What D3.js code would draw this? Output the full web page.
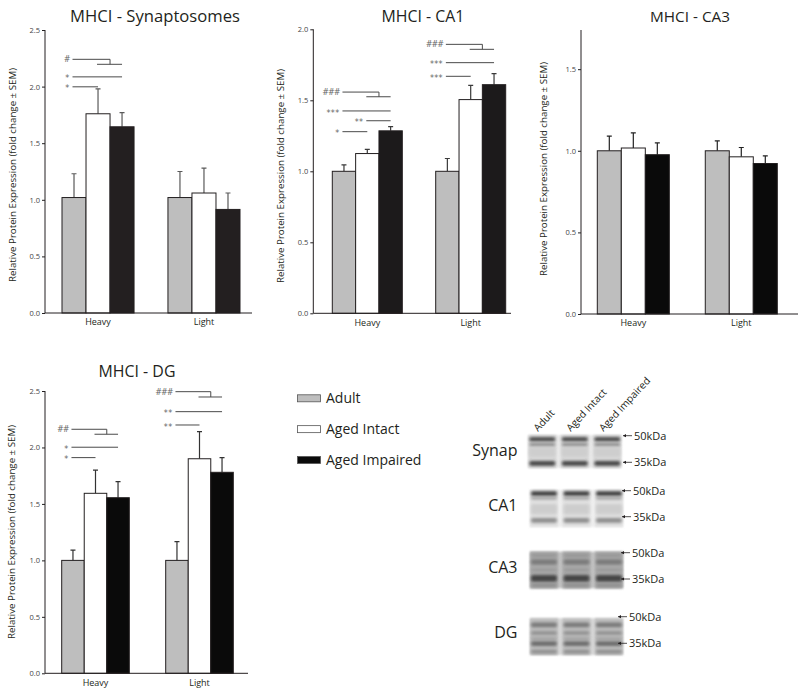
<!DOCTYPE html>
<html><head><meta charset="utf-8">
<script src="https://cdn.jsdelivr.net/npm/d3@7"></script>
<style>body{margin:0;background:#fff} svg{display:block}</style>
</head><body>
<svg id="c" width="800" height="699"></svg>
<script>
// ---------------- data ----------------
const groups = ["Heavy", "Light"];
const series = ["Adult", "Aged Intact", "Aged Impaired"];
const ticks25 = [0, 0.5, 1.0, 1.5, 2.0, 2.5];
const ticks20 = [0, 0.5, 1.0, 1.5, 2.0];
const ticksCA3 = [0, 0.5, 1.0, 1.5];
const yLabel = "Relative Protein Expression (fold change \u00b1 SEM)";

const synHeavy = [1.02, 1.76, 1.645], synHeavySem = [0.21, 0.22, 0.125];
const synLight = [1.02, 1.06, 0.915], synLightSem = [0.23, 0.22, 0.145];
const ca1Heavy = [1.0, 1.125, 1.285], ca1HeavySem = [0.045, 0.03, 0.03];
const ca1Light = [1.0, 1.505, 1.61],  ca1LightSem = [0.09, 0.10, 0.078];
const ca3Heavy = [1.0, 1.017, 0.976], ca3HeavySem = [0.09, 0.093, 0.073];
const ca3Light = [1.0, 0.963, 0.922], ca3LightSem = [0.061, 0.057, 0.047];
const dgHeavy = [1.0, 1.594, 1.555], dgHeavySem = [0.09, 0.206, 0.142];
const dgLight = [1.0, 1.90, 1.78],   dgLightSem = [0.166, 0.24, 0.13];

// significance annotations (y in data units)
const synSig = [
  {group: "Heavy", label: "#", bracket: true, y: 2.241, y2: 2.197},
  {group: "Heavy", label: "*", from: 0, to: 2, y: 2.086},
  {group: "Heavy", label: "*", from: 0, to: 1, y: 1.998}
];
const ca1Sig = [
  {group: "Heavy", label: "###", bracket: true, y: 1.558, y2: 1.525},
  {group: "Heavy", label: "***", from: 0, to: 2, y: 1.425},
  {group: "Heavy", label: "**", from: 1, to: 2, y: 1.356},
  {group: "Heavy", label: "*", from: 0, to: 1, y: 1.279},
  {group: "Light", label: "###", bracket: true, y: 1.894, y2: 1.859},
  {group: "Light", label: "***", from: 0, to: 2, y: 1.765},
  {group: "Light", label: "***", from: 0, to: 1, y: 1.669}
];
const ca3Sig = [];
const dgSig = [
  {group: "Heavy", label: "##", bracket: true, y: 2.161, y2: 2.117},
  {group: "Heavy", label: "*", from: 0, to: 2, y: 2.002},
  {group: "Heavy", label: "*", from: 0, to: 1, y: 1.91},
  {group: "Light", label: "###", bracket: true, y: 2.494, y2: 2.447},
  {group: "Light", label: "**", from: 0, to: 2, y: 2.317},
  {group: "Light", label: "**", from: 0, to: 1, y: 2.199}
];

const blotRows = ["Synap", "CA1", "CA3", "DG"];
const blotLanes = ["Adult", "Aged Intact", "Aged Impaired"];
const blotMarkers = ["50kDa", "35kDa"];

// ---------------- drawing ----------------
const svg = d3.select("#c");
const FONT = "'Open Sans', 'Noto Sans', sans-serif";
const SIGFONT = "'DejaVu Sans', sans-serif";

function fitText(sel, target) {
  const n = sel.node();
  const fs = parseFloat(sel.attr("font-size"));
  const len = n.getComputedTextLength();
  if (len > 0) sel.attr("font-size", fs * target / len);
}

function panel(cfg) {
  const g = svg.append("g");
  const y = d3.scaleLinear().domain([0, cfg.max]).range([cfg.yBottom, cfg.yTop]);
  const x0 = d3.scaleBand().domain(groups).range([cfg.bx0, cfg.bx1]).paddingInner(cfg.pi).paddingOuter(0);
  const x1 = d3.scaleBand().domain(series).range([0, x0.bandwidth()]);
  const fills = ["#bebebe", "#ffffff", cfg.dark];
  const data = groups.map((grp, gi) => series.map((s, si) => ({
    grp, s, si, v: cfg.means[gi][si], e: cfg.sems[gi][si]
  }))).flat();

  // title
  const t = g.append("text").attr("x", cfg.titleX).attr("y", cfg.titleY)
    .attr("text-anchor", "middle").attr("font-family", FONT).attr("font-size", 17.5)
    .attr("fill", "#231f20").text(cfg.title);
  fitText(t, cfg.titleW);

  // y label
  const yl = g.append("text")
    .attr("transform", `translate(${cfg.labX},${cfg.labY}) rotate(-90)`)
    .attr("text-anchor", "middle").attr("font-family", FONT).attr("font-size", 9.2)
    .attr("fill", "#231f20").text(yLabel);
  fitText(yl, 214);

  // y axis
  const ya = g.append("g").attr("transform", `translate(${cfg.axisX},0)`)
    .call(d3.axisLeft(y).tickValues(cfg.ticks).tickFormat(d3.format(".1f")).tickSize(3).tickSizeOuter(0).tickPadding(2));
  ya.select(".domain").attr("stroke", "#231f20").attr("d", `M0,${cfg.yBottom}V${cfg.yTop}`);
  ya.selectAll(".tick line").attr("stroke", "#231f20");
  ya.selectAll(".tick text").attr("font-family", FONT).attr("font-size", 7.5).attr("fill", "#444");

  // error bars
  const cx = d => x0(d.grp) + x1(d.s) + x1.bandwidth() / 2;
  g.selectAll(".err").data(data).join("path")
    .attr("d", d => `M${cx(d)},${y(d.v)}V${y(d.v + d.e)}M${cx(d) - 2.5},${y(d.v + d.e)}H${cx(d) + 2.5}`)
    .attr("stroke", cfg.errColor).attr("stroke-width", 1.2).attr("fill", "none");

  // bars
  g.selectAll(".bar").data(data).join("rect")
    .attr("x", d => x0(d.grp) + x1(d.s))
    .attr("y", d => y(d.v))
    .attr("width", x1.bandwidth())
    .attr("height", d => y(0) - y(d.v))
    .attr("fill", d => fills[d.si])
    .attr("stroke", "#231f20").attr("stroke-width", 1);

  // x axis
  g.append("line").attr("x1", cfg.axisX).attr("x2", cfg.axisEnd)
    .attr("y1", cfg.yBottom).attr("y2", cfg.yBottom).attr("stroke", "#231f20");
  const xa = g.append("g").attr("transform", `translate(0,${cfg.yBottom})`)
    .call(d3.axisBottom(x0).tickSize(0).tickPadding(6));
  xa.select(".domain").remove();
  xa.selectAll(".tick text").attr("font-family", FONT).attr("font-size", 9).attr("fill", "#231f20");

  // significance
  const c = (grp, i) => x0(grp) + x1(series[i]) + x1.bandwidth() / 2;
  cfg.sig.forEach(s => {
    const start = c(s.group, 0) - 1.5;
    let path;
    if (s.bracket) {
      const mid = (c(s.group, 1) + c(s.group, 2)) / 2;
      path = `M${start},${y(s.y)}H${mid}V${y(s.y2)}M${c(s.group, 1) - 1},${y(s.y2)}H${c(s.group, 2)}`;
    } else {
      const st = s.from === 0 ? start : c(s.group, s.from) - 1;
      path = `M${st},${y(s.y)}H${c(s.group, s.to)}`;
    }
    g.append("path").attr("d", path).attr("stroke", "#4a4a4a").attr("stroke-width", 1).attr("fill", "none");
    const lx = s.from && s.from > 0 ? c(s.group, s.from) - 4 : start - 3;
    const isStar = s.label[0] === "*";
    g.append("text").attr("x", lx).attr("y", y(s.y) + (isStar ? 4.6 : 3))
      .attr("text-anchor", "end").attr("font-family", SIGFONT).attr("font-size", 8)
      .attr("letter-spacing", isStar ? 0.3 : -1)
      .attr("fill", "#666").text(s.label);
  });
}

panel({title: "MHCI - Synaptosomes", titleX: 155, titleY: 21.5, titleW: 170, labX: 16, labY: 175,
  axisX: 45, axisEnd: 252, yBottom: 313, yTop: 30, max: 2.5, ticks: ticks25,
  bx0: 62, bx1: 240, pi: 0.32, dark: "#231f20", errColor: "#5a5a5a",
  means: [synHeavy, synLight], sems: [synHeavySem, synLightSem], sig: synSig});

panel({title: "MHCI - CA1", titleX: 423, titleY: 21.5, titleW: 83, labX: 284, labY: 176,
  axisX: 313.3, axisEnd: 511, yBottom: 313.3, yTop: 29.3, max: 2.0, ticks: ticks20,
  bx0: 332.3, bx1: 505.7, pi: 0.323, dark: "#1c1a1b", errColor: "#3a3a3a",
  means: [ca1Heavy, ca1Light], sems: [ca1HeavySem, ca1LightSem], sig: ca1Sig});

panel({title: "MHCI - CA3", titleX: 690, titleY: 21.5, titleW: 80, labX: 546.5, labY: 169,
  axisX: 581, axisEnd: 798, yBottom: 314, yTop: 30, max: 1.74, ticks: ticksCA3,
  bx0: 597.3, bx1: 777.3, pi: 0.333, dark: "#0a0a0a", errColor: "#222",
  means: [ca3Heavy, ca3Light], sems: [ca3HeavySem, ca3LightSem], sig: ca3Sig});

panel({title: "MHCI - DG", titleX: 137, titleY: 377, titleW: 77, labX: 15, labY: 532,
  axisX: 45, axisEnd: 248, yBottom: 673.3, yTop: 391, max: 2.5, ticks: ticks25,
  bx0: 61.7, bx1: 233.3, pi: 0.35, dark: "#0a0a0a", errColor: "#333",
  means: [dgHeavy, dgLight], sems: [dgHeavySem, dgLightSem], sig: dgSig});

// ---------------- legend ----------------
const legFills = ["#bebebe", "#ffffff", "#0a0a0a"];
const leg = svg.append("g");
const legY = d3.scalePoint().domain(series).range([398.3, 460]);
series.forEach((s, i) => {
  leg.append("rect").attr("x", 297.5).attr("y", legY(s) - 3.5).attr("width", 23).attr("height", 7)
    .attr("fill", legFills[i]).attr("stroke", "#555").attr("stroke-width", 0.8);
  leg.append("text").attr("x", 326).attr("y", legY(s) + 5).attr("font-family", FONT)
    .attr("font-size", 14).attr("fill", "#231f20").text(s);
});

// ---------------- western blot ----------------
const defs = svg.append("defs");
defs.append("filter").attr("id", "blur").attr("x", "-30%").attr("y", "-100%").attr("width", "160%").attr("height", "300%")
  .append("feGaussianBlur").attr("stdDeviation", 1.4);
defs.append("filter").attr("id", "blur2").attr("x", "-20%").attr("y", "-20%").attr("width", "140%").attr("height", "140%")
  .append("feGaussianBlur").attr("stdDeviation", 1.0);

const rowCfg = {
  "Synap": {y0: 435, y1: 468, lx0: 528.3, bg: "#d8d8d8", gap: "#e8e8e8", labY: 450,
    m: [435.7, 462.3], ax: 623,
    bands: [[0.13, 0.12, "#404040"], [0.29, 0.10, "#8a8a8a"], [0.52, 0.28, "#cecece"], [0.86, 0.15, "#454545"]]},
  "CA1": {y0: 490, y1: 527, lx0: 530, bg: "#e2e2e2", gap: "#efefef", labY: 505,
    m: [490.7, 516.7], ax: 622,
    bands: [[0.10, 0.13, "#3e3e3e"], [0.22, 0.07, "#9c9c9c"], [0.52, 0.28, "#cdcdcd"], [0.82, 0.13, "#8c8c8c"]]},
  "CA3": {y0: 551.7, y1: 588.3, lx0: 530, bg: "#acacac", gap: "#c0c0c0", labY: 566.7,
    m: [552.7, 579], ax: 621,
    bands: [[0.10, 0.10, "#969696"], [0.28, 0.15, "#7a7a7a"], [0.50, 0.10, "#9a9a9a"], [0.73, 0.18, "#454545"], [0.92, 0.10, "#8e8e8e"]]},
  "DG": {y0: 618.3, y1: 655, lx0: 530, bg: "#c0c0c0", gap: "#d6d6d6", labY: 631.7,
    m: [616.7, 643.3], ax: 618,
    bands: [[0.18, 0.13, "#787878"], [0.40, 0.10, "#8c8c8c"], [0.55, 0.08, "#a2a2a2"], [0.69, 0.13, "#6a6a6a"], [0.91, 0.10, "#8c8c8c"]]}
};
const laneW = 28, laneStep = 32.5;
const blot = svg.append("g");
blotRows.forEach(r => {
  const c = rowCfg[r];
  const fy = d3.scaleLinear().domain([0, 1]).range([c.y0, c.y1]);
  blot.append("rect").attr("x", c.lx0).attr("y", c.y0).attr("width", laneStep * 2 + laneW).attr("height", c.y1 - c.y0)
    .attr("fill", c.gap).attr("filter", "url(#blur2)");
  blotLanes.forEach((ln, li) => {
    const lx = c.lx0 + li * laneStep;
    blot.append("rect").attr("x", lx).attr("y", c.y0).attr("width", laneW).attr("height", c.y1 - c.y0)
      .attr("fill", c.bg).attr("filter", "url(#blur2)");
    c.bands.forEach(b => {
      blot.append("rect").attr("x", lx + 1).attr("y", fy(b[0]) - (b[1] * (c.y1 - c.y0)) / 2)
        .attr("width", laneW - 2).attr("height", b[1] * (c.y1 - c.y0))
        .attr("rx", 2).attr("fill", b[2]).attr("filter", "url(#blur)");
    });
  });
  blot.append("text").attr("x", 517.5).attr("y", c.labY + 6).attr("text-anchor", "end")
    .attr("font-family", FONT).attr("font-size", 16).attr("fill", "#231f20").text(r);
  blotMarkers.forEach((mk, mi) => {
    const my = c.m[mi];
    blot.append("path").attr("d", `M${c.ax},${my}H${c.ax + 9}`).attr("stroke", "#231f20").attr("stroke-width", 0.8);
    blot.append("path").attr("d", `M${c.ax},${my}l3,-1.6v3.2z`).attr("fill", "#231f20");
    blot.append("text").attr("x", c.ax + 11).attr("y", my + 4).attr("font-family", FONT)
      .attr("font-size", 11).attr("fill", "#231f20").text(mk);
  });
});
blotLanes.forEach((ln, li) => {
  blot.append("text")
    .attr("transform", `translate(${538 + li * 32.8},${432}) rotate(-47)`)
    .attr("font-family", FONT).attr("font-size", 10.2).attr("fill", "#231f20").text(ln);
});
</script>
</body></html>
